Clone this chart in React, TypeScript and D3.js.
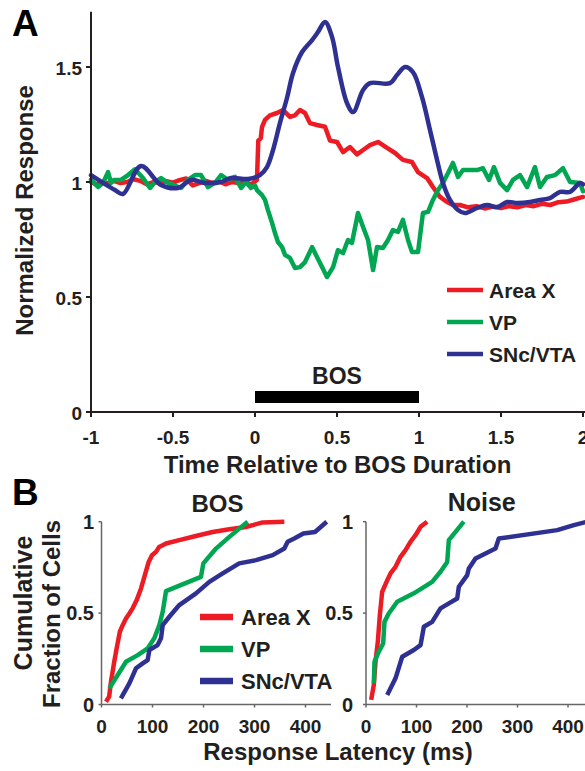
import React from "react";
import * as d3 from "d3";

const FONT = "'Liberation Sans', Arial, Helvetica, sans-serif";
const RED = "#ED1C24";
const GREEN = "#00A651";
const BLUE = "#2E3192";
const AXIS = "#231F20";

// ---------- Panel A data ----------
const timeTicks = [-1, -0.5, 0, 0.5, 1, 1.5, 2];
const timeTickLabels = ["-1", "-0.5", "0", "0.5", "1", "1.5", "2"];
const respTicks = [0, 0.5, 1, 1.5];
const respTickLabels = ["0", "0.5", "1", "1.5"];
const seriesNames = ["Area X", "VP", "SNc/VTA"];

const areaXTrace: [number, number][] = [
  [-1.0, 1.0], [-0.97, 0.99], [-0.93, 1.0], [-0.9, 0.995], [-0.86, 1.005], [-0.82, 0.995],
  [-0.78, 1.0], [-0.74, 1.012], [-0.7, 1.005], [-0.66, 0.99], [-0.62, 1.0], [-0.58, 0.995],
  [-0.54, 1.003], [-0.5, 0.997], [-0.46, 1.008], [-0.42, 1.015], [-0.38, 0.985], [-0.34, 0.995],
  [-0.3, 1.005], [-0.26, 0.995], [-0.22, 1.003], [-0.18, 0.99], [-0.14, 1.0], [-0.1, 0.995],
  [-0.06, 1.0], [-0.02, 0.99], [0.012, 1.01], [0.02, 1.18], [0.035, 1.19], [0.043, 1.24],
  [0.061, 1.27], [0.091, 1.29], [0.134, 1.3], [0.171, 1.313], [0.213, 1.283], [0.244, 1.29],
  [0.274, 1.313], [0.305, 1.3], [0.335, 1.256], [0.378, 1.248], [0.427, 1.24], [0.457, 1.18],
  [0.5, 1.174], [0.537, 1.13], [0.579, 1.152], [0.622, 1.12], [0.659, 1.139], [0.701, 1.16],
  [0.75, 1.174], [0.805, 1.148], [0.854, 1.126], [0.902, 1.096], [0.957, 1.087], [0.994, 1.043],
  [1.049, 1.017], [1.085, 0.978], [1.128, 0.935], [1.171, 0.913], [1.207, 0.9], [1.25, 0.9],
  [1.3, 0.89], [1.35, 0.895], [1.4, 0.885], [1.45, 0.893], [1.5, 0.887], [1.55, 0.895],
  [1.6, 0.89], [1.65, 0.9], [1.7, 0.895], [1.75, 0.905], [1.8, 0.9], [1.85, 0.912],
  [1.9, 0.915], [1.95, 0.925], [2.0, 0.935],
];

const vpTrace: [number, number][] = [
  [-1.0, 1.01], [-0.957, 0.978], [-0.927, 0.996], [-0.896, 1.043], [-0.878, 0.996], [-0.86, 1.009],
  [-0.817, 1.009], [-0.774, 1.03], [-0.732, 1.055], [-0.683, 1.017], [-0.64, 0.974], [-0.61, 1.0],
  [-0.573, 1.017], [-0.53, 0.996], [-0.451, 0.974], [-0.409, 1.009], [-0.366, 1.03], [-0.329, 1.03],
  [-0.287, 0.978], [-0.244, 0.996], [-0.207, 1.03], [-0.165, 1.009], [-0.122, 1.022], [-0.085, 0.974],
  [-0.055, 1.0], [-0.024, 0.974], [0.0, 0.985], [0.012, 0.965], [0.043, 0.943], [0.061, 0.922],
  [0.079, 0.878], [0.104, 0.822], [0.122, 0.778], [0.14, 0.739], [0.165, 0.717], [0.183, 0.683],
  [0.213, 0.67], [0.244, 0.626], [0.274, 0.63], [0.305, 0.652], [0.348, 0.717], [0.378, 0.674],
  [0.409, 0.63], [0.439, 0.587], [0.476, 0.63], [0.506, 0.704], [0.537, 0.691], [0.567, 0.748],
  [0.591, 0.735], [0.628, 0.865], [0.659, 0.804], [0.689, 0.748], [0.72, 0.617], [0.744, 0.717],
  [0.78, 0.713], [0.811, 0.748], [0.841, 0.791], [0.872, 0.783], [0.902, 0.835], [0.933, 0.748],
  [0.957, 0.696], [0.994, 0.696], [1.024, 0.865], [1.055, 0.87], [1.085, 0.922], [1.116, 0.965],
  [1.146, 0.996], [1.177, 1.039], [1.207, 1.083], [1.238, 1.022], [1.268, 1.052], [1.354, 1.052],
  [1.39, 1.06], [1.427, 1.009], [1.457, 1.065], [1.494, 0.996], [1.537, 0.965], [1.573, 1.009],
  [1.616, 1.03], [1.659, 0.978], [1.707, 1.065], [1.738, 0.978], [1.78, 1.022], [1.829, 1.03],
  [1.878, 1.06], [1.921, 1.0], [1.982, 0.996], [2.0, 0.96],
];

const sncTrace: [number, number][] = [
  [-1.0, 1.03], [-0.854, 0.965], [-0.805, 0.948], [-0.695, 1.07], [-0.573, 0.987], [-0.47, 0.974],
  [-0.39, 1.009], [-0.305, 0.996], [-0.207, 1.0], [-0.146, 1.017], [-0.043, 1.013], [0.03, 1.03],
  [0.073, 1.065], [0.11, 1.139], [0.152, 1.256], [0.195, 1.365], [0.232, 1.474], [0.287, 1.565],
  [0.348, 1.617], [0.384, 1.652], [0.427, 1.696], [0.47, 1.63], [0.506, 1.5], [0.561, 1.343],
  [0.598, 1.304], [0.659, 1.4], [0.701, 1.43], [0.823, 1.43], [0.866, 1.465], [0.915, 1.5],
  [0.963, 1.478], [1.018, 1.37], [1.067, 1.226], [1.11, 1.096], [1.146, 0.996], [1.189, 0.922],
  [1.238, 0.878], [1.28, 0.865], [1.354, 0.887], [1.415, 0.9], [1.476, 0.891], [1.537, 0.913],
  [1.598, 0.909], [1.677, 0.913], [1.738, 0.922], [1.799, 0.93], [1.86, 0.957], [1.921, 0.957],
  [1.982, 0.996], [2.0, 0.99],
];

// ---------- Panel B data (latency ms, cumulative fraction) ----------
const latencyTicks = [0, 100, 200, 300, 400];
const fractionTicks = [0, 0.5, 1];
const fractionTickLabels = ["0", "0.5", "1"];

const bosAreaX: [number, number][] = [
  [8.8, 0.015], [15, 0.043], [18.6, 0.125], [25, 0.234], [29.7, 0.307], [36, 0.398], [41.5, 0.434],
  [48, 0.471], [54.6, 0.498], [61, 0.526], [69, 0.571], [77.5, 0.635], [84, 0.698], [92.5, 0.78],
  [99, 0.817], [107, 0.835], [113, 0.862], [126.5, 0.881], [152.5, 0.899], [185, 0.922],
  [218, 0.944], [250.6, 0.959], [283, 0.971], [316, 0.996], [358.5, 1.0],
];
const bosVP: [number, number][] = [
  [15.3, 0.088], [48, 0.234], [71, 0.27], [90.5, 0.307], [103.5, 0.362], [113.4, 0.434],
  [120, 0.507], [126.5, 0.62], [139.6, 0.635], [195, 0.698], [199.7, 0.772], [224.5, 0.853],
  [250.6, 0.917], [286.6, 1.0],
];
const bosSNc: [number, number][] = [
  [38, 0.034], [54.6, 0.116], [67.6, 0.198], [80.8, 0.225], [90.5, 0.243], [93.8, 0.298],
  [110, 0.325], [116.7, 0.362], [120, 0.434], [133, 0.48], [152.5, 0.544], [185.3, 0.608],
  [211.4, 0.671], [237.6, 0.717], [270, 0.772], [303, 0.79], [335.7, 0.817], [358.5, 0.853],
  [365, 0.89], [378, 0.908], [395.7, 0.935], [418.6, 0.944], [441.6, 1.0],
];
const noiseAreaX: [number, number][] = [
  [10.2, 0.025], [15.5, 0.107], [18.8, 0.234], [23.4, 0.343], [27.4, 0.489], [32, 0.616],
  [40.6, 0.671], [48.5, 0.717], [58.4, 0.753], [68.3, 0.808], [78.2, 0.844], [88, 0.89],
  [98, 0.926], [108, 0.972], [121, 1.0],
];
const noiseVP: [number, number][] = [
  [15.5, 0.116], [16.8, 0.234], [25.4, 0.289], [34, 0.334], [36.6, 0.452], [45, 0.498],
  [61.8, 0.562], [94.7, 0.608], [131, 0.671], [147.5, 0.726], [160.8, 0.78], [164, 0.899],
  [193.7, 1.0],
];
const noiseSNc: [number, number][] = [
  [42, 0.052], [58.4, 0.143], [71.7, 0.261], [94.7, 0.298], [108, 0.325], [114.5, 0.425],
  [131, 0.452], [147.5, 0.526], [164, 0.553], [180.6, 0.58], [183.8, 0.644], [200.4, 0.708],
  [203.6, 0.744], [216.8, 0.799], [256.4, 0.853], [263, 0.908], [378.6, 0.954], [411.5, 0.981],
  [438, 1.0],
];

export default function App() {
  // Panel A scales
  const xA = d3.scaleLinear().domain([-1, 2]).range([91, 583]);
  const yA = d3.scaleLinear().domain([0, 1]).range([412, 182]);
  const lineA = d3.line<[number, number]>().x((d) => xA(d[0])).y((d) => yA(d[1]));
  const lineSmooth = d3
    .line<[number, number]>()
    .x((d) => xA(d[0]))
    .y((d) => yA(d[1]))
    .curve(d3.curveCatmullRom.alpha(0.5));

  // Panel B scales
  const xBos = d3.scaleLinear().domain([0, 450]).range([101.5, 331]);
  const xNoise = d3.scaleLinear().domain([0, 435]).range([366, 585.7]);
  const yB = d3.scaleLinear().domain([0, 1]).range([704.5, 521.7]);
  const lineBos = d3.line<[number, number]>().x((d) => xBos(d[0])).y((d) => yB(d[1]));
  const lineNoise = d3.line<[number, number]>().x((d) => xNoise(d[0])).y((d) => yB(d[1]));

  const colors = [RED, GREEN, BLUE];
  const bold = { fontFamily: FONT, fontWeight: 700, fill: "#231F20" } as const;

  return (
    <svg
      width={585}
      height={771}
      viewBox="0 0 585 771"
      style={{ position: "absolute", left: 0, top: 0, background: "#fff" }}
    >
      <rect x={0} y={0} width={585} height={771} fill="#fff" />

      {/* ================= Panel A ================= */}
      <text x={12} y={36} fontSize={37} {...bold} fill="#000">A</text>

      {/* BOS bar */}
      <rect x={xA(0)} y={391} width={xA(1) - xA(0)} height={12} fill="#000" />
      <text x={(xA(0) + xA(1)) / 2} y={384} fontSize={23} textAnchor="middle" {...bold}>BOS</text>

      {/* traces */}
      <path d={lineA(areaXTrace) || ""} fill="none" stroke={RED} strokeWidth={4.5} strokeLinejoin="round" strokeLinecap="round" />
      <path d={lineA(vpTrace) || ""} fill="none" stroke={GREEN} strokeWidth={4.5} strokeLinejoin="round" strokeLinecap="round" />
      <path d={lineSmooth(sncTrace) || ""} fill="none" stroke={BLUE} strokeWidth={4.5} strokeLinejoin="round" strokeLinecap="round" />

      {/* axes */}
      <line x1={xA(-1)} x2={xA(-1)} y1={yA(0)} y2={yA(1.74)} stroke={AXIS} strokeWidth={2} />
      <line x1={xA(-1)} x2={585} y1={yA(0)} y2={yA(0)} stroke={AXIS} strokeWidth={2} />
      {respTicks.map((v, i) => (
        <g key={"ry" + v}>
          <line x1={xA(-1) - 5} x2={xA(-1)} y1={yA(v)} y2={yA(v)} stroke={AXIS} strokeWidth={2} />
          <text x={82} y={yA(v) + 1} dy="0.35em" fontSize={19} textAnchor="end" {...bold}>
            {respTickLabels[i]}
          </text>
        </g>
      ))}
      {timeTicks.map((t, i) => (
        <g key={"tx" + t}>
          <line x1={xA(t)} x2={xA(t)} y1={yA(0)} y2={yA(0) + 5} stroke={AXIS} strokeWidth={2} />
          <text x={xA(t)} y={444} fontSize={19} textAnchor="middle" {...bold}>
            {timeTickLabels[i]}
          </text>
        </g>
      ))}
      <text x={337.5} y={473} fontSize={24} textAnchor="middle" {...bold}>
        Time Relative to BOS Duration
      </text>
      <text transform="translate(33,210.5) rotate(-90)" fontSize={24} textAnchor="middle" {...bold}>
        Normalized Response
      </text>

      {/* legend A */}
      {seriesNames.map((n, i) => (
        <g key={"la" + n}>
          <line x1={447} x2={483} y1={290 + i * 32} y2={290 + i * 32} stroke={colors[i]} strokeWidth={4.5} />
          <text x={489} y={298 + i * 32} fontSize={21} {...bold}>{n}</text>
        </g>
      ))}

      {/* ================= Panel B ================= */}
      <text x={12} y={505} fontSize={37} {...bold} fill="#000">B</text>
      <text x={217.5} y={512} fontSize={24} textAnchor="middle" {...bold}>BOS</text>
      <text x={481.7} y={511} fontSize={25} textAnchor="middle" {...bold}>Noise</text>

      <text transform="translate(32,603) rotate(-90)" fontSize={25} textAnchor="middle" {...bold}>
        Cumulative
      </text>
      <text transform="translate(60,614) rotate(-90)" fontSize={24} textAnchor="middle" {...bold}>
        Fraction of Cells
      </text>

      {/* BOS subplot axes */}
      <line x1={xBos(0)} x2={xBos(0)} y1={yB(0)} y2={yB(1)} stroke="#666" strokeWidth={1.5} />
      <line x1={xBos(0)} x2={xBos(450)} y1={yB(0)} y2={yB(0)} stroke="#666" strokeWidth={1.5} />
      {fractionTicks.map((f, i) => (
        <g key={"fb" + f}>
          <line x1={xBos(0) - 3} x2={xBos(0)} y1={yB(f)} y2={yB(f)} stroke="#666" strokeWidth={1.5} />
          <text x={94} y={yB(f)} dy="0.35em" fontSize={20} textAnchor="end" {...bold}>
            {fractionTickLabels[i]}
          </text>
        </g>
      ))}
      {latencyTicks.map((m) => (
        <g key={"lb" + m}>
          <line x1={xBos(m)} x2={xBos(m)} y1={yB(0)} y2={yB(0) + 3} stroke="#666" strokeWidth={1.5} />
          <text x={xBos(m)} y={733} fontSize={19} textAnchor="middle" {...bold}>{m}</text>
        </g>
      ))}

      {/* Noise subplot axes */}
      <line x1={xNoise(0)} x2={xNoise(0)} y1={yB(0)} y2={yB(1)} stroke="#666" strokeWidth={1.5} />
      <line x1={xNoise(0)} x2={585} y1={yB(0)} y2={yB(0)} stroke="#666" strokeWidth={1.5} />
      {fractionTicks.map((f, i) => (
        <g key={"fn" + f}>
          <line x1={xNoise(0) - 3} x2={xNoise(0)} y1={yB(f)} y2={yB(f)} stroke="#666" strokeWidth={1.5} />
          <text x={353} y={yB(f)} dy="0.35em" fontSize={20} textAnchor="end" {...bold}>
            {fractionTickLabels[i]}
          </text>
        </g>
      ))}
      {latencyTicks.map((m) => (
        <g key={"ln" + m}>
          <line x1={xNoise(m)} x2={xNoise(m)} y1={yB(0)} y2={yB(0) + 3} stroke="#666" strokeWidth={1.5} />
          <text x={xNoise(m)} y={733} fontSize={19} textAnchor="middle" {...bold}>{m}</text>
        </g>
      ))}

      {/* curves */}
      <path d={lineBos(bosAreaX) || ""} fill="none" stroke={RED} strokeWidth={4.5} strokeLinejoin="round" />
      <path d={lineBos(bosVP) || ""} fill="none" stroke={GREEN} strokeWidth={4.5} strokeLinejoin="round" />
      <path d={lineBos(bosSNc) || ""} fill="none" stroke={BLUE} strokeWidth={4.5} strokeLinejoin="round" />
      <path d={lineNoise(noiseAreaX) || ""} fill="none" stroke={RED} strokeWidth={4.5} strokeLinejoin="round" />
      <path d={lineNoise(noiseVP) || ""} fill="none" stroke={GREEN} strokeWidth={4.5} strokeLinejoin="round" />
      <path d={lineNoise(noiseSNc) || ""} fill="none" stroke={BLUE} strokeWidth={4.5} strokeLinejoin="round" />

      {/* legend B */}
      {seriesNames.map((n, i) => (
        <g key={"lb" + n}>
          <line x1={200} x2={233} y1={617 + i * 32} y2={617 + i * 32} stroke={colors[i]} strokeWidth={6.5} />
          <text x={241} y={625 + i * 32} fontSize={22} {...bold}>{n}</text>
        </g>
      ))}

      <text x={338} y={760} fontSize={24} textAnchor="middle" {...bold}>
        Response Latency (ms)
      </text>
    </svg>
  );
}
